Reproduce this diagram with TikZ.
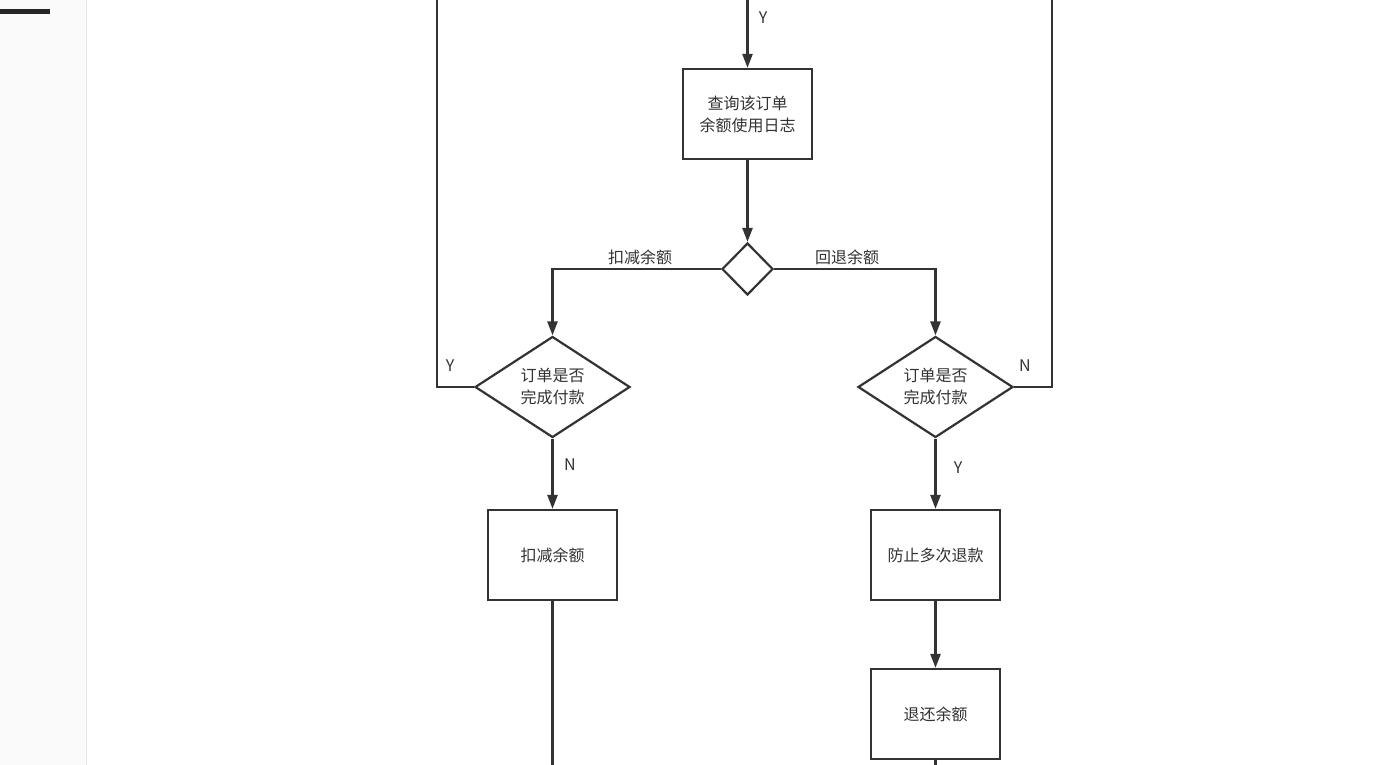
\documentclass[tikz,border=0pt]{standalone}
\usepackage{fontspec}
\setmainfont{Noto Sans CJK SC}
\usetikzlibrary{shapes.geometric,arrows.meta}
\definecolor{ln}{HTML}{333333}
\definecolor{tx}{HTML}{333333}
\definecolor{side}{HTML}{FAFAFA}
\definecolor{sideb}{HTML}{E6E6E6}
\begin{document}
\begin{tikzpicture}[x=1pt,y=-1pt,
  every node/.style={text=tx,font=\fontsize{16}{22}\selectfont},
  flow/.style={draw=ln,line width=2.4pt},
  arr/.style={flow,-{Triangle[length=14pt,width=10pt]}},
  procbox/.style={draw=ln,line width=2.2pt,rectangle,minimum width=129pt,minimum height=90pt,inner sep=0pt,align=center,fill=white},
  decide/.style={draw=ln,line width=2.2pt,diamond,minimum width=155pt,minimum height=101pt,inner sep=0pt,align=center,fill=white},
  lab/.style={inner sep=0pt,font=\fontsize{16}{18}\selectfont}]
\useasboundingbox (0,0) rectangle (1400,765);
\fill[white] (0,0) rectangle (1400,765);
\fill[side] (0,0) rectangle (86,765);
\draw[sideb,line width=1.2pt] (86.5,0) -- (86.5,765);
\fill[black!85] (0,9) rectangle (50,14.5);

% nodes
\coordinate (topin) at (747.5,0);
\coordinate (ltop) at (437,0);
\coordinate (rtop) at (1052,0);
\coordinate (lbot) at (552.5,765);
\coordinate (rbot) at (935.5,765);
\node[procbox] (q) at (747.5,114) {查询该订单\\余额使用日志};
\node[draw=ln,line width=2.2pt,diamond,minimum width=51pt,minimum height=52pt,inner sep=0pt,fill=white] (d1) at (747.5,269) {};
\node[decide] (d2) at (552.5,387) {订单是否\\完成付款};
\node[decide] (d3) at (935.5,387) {订单是否\\完成付款};
\node[procbox] (b2) at (552.5,555) {扣减余额};
\node[procbox] (b3) at (935.5,555) {防止多次退款};
\node[procbox] (b4) at (935.5,714) {退还余额};

% connectors
\draw[arr] (topin) -- (q.north);
\node[lab] (ly1) at (763,18) {Y};
\draw[arr] (q.south) -- (d1.north);
\draw[arr] (d1.west) -| (d2.north);
\draw[arr] (d1.east) -| (d3.north);
\node[lab] (lk) at (640,257) {扣减余额};
\node[lab] (lh) at (847,257) {回退余额};
\draw[flow] (d2.west) -| (ltop);
\node[lab] (ly2) at (450,366) {Y};
\draw[flow] (d3.east) -| (rtop);
\node[lab] (ln1) at (1025,366) {N};
\draw[arr] (d2.south) -- (b2.north);
\node[lab] (ln2) at (570,465) {N};
\draw[arr] (d3.south) -- (b3.north);
\node[lab] (ly3) at (958,468) {Y};
\draw[flow] (b2.south) -- (lbot);
\draw[arr] (b3.south) -- (b4.north);
\draw[flow] (b4.south) -- (rbot);
\end{tikzpicture}
\end{document}
